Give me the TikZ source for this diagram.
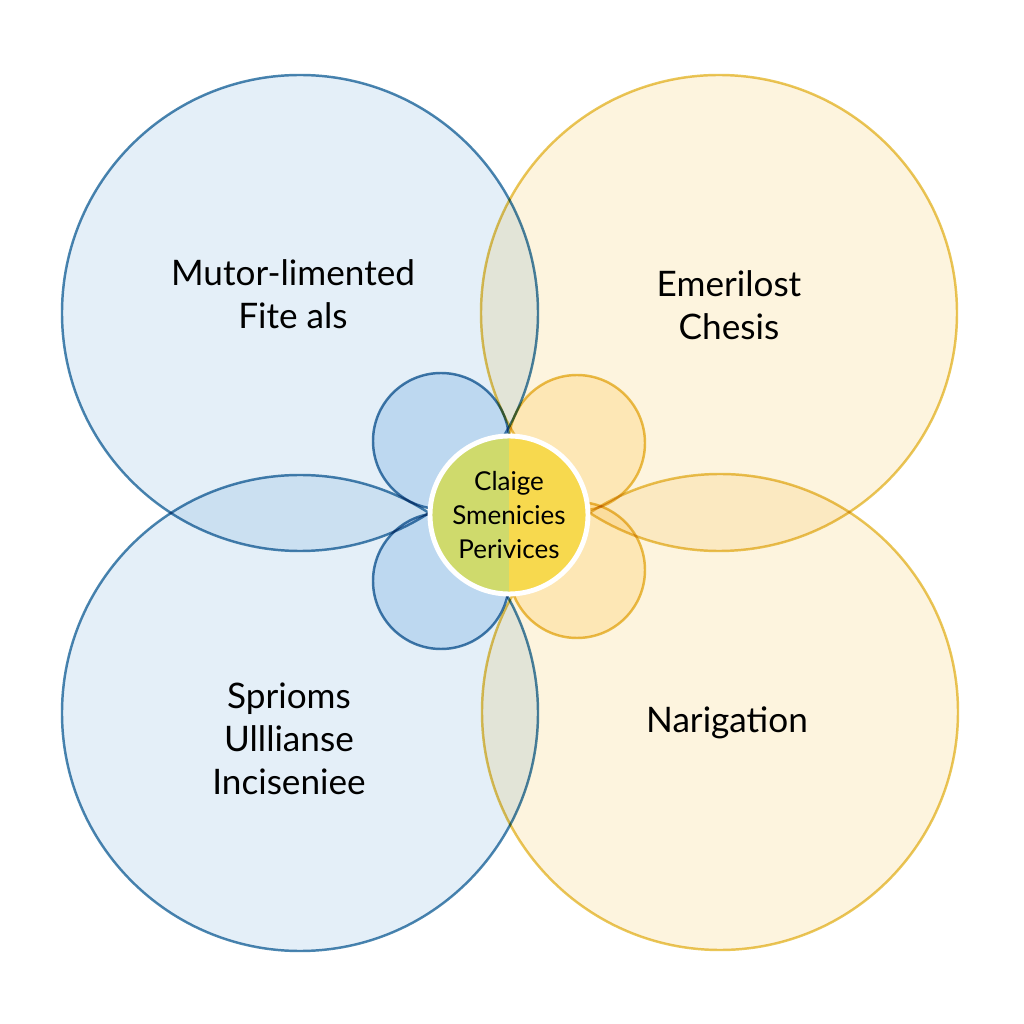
\documentclass[tikz,border=0pt]{standalone}
\usepackage{fontspec}
\setmainfont{Lato}
\definecolor{bluefill}{RGB}{228,239,248}
\definecolor{blueline}{RGB}{74,134,176}
\definecolor{yellowfill}{RGB}{253,244,222}
\definecolor{yellowline}{RGB}{234,199,88}
\definecolor{petalblue}{RGB}{212,231,247}
\definecolor{petalblueline}{RGB}{70,128,172}
\definecolor{petalyellow}{RGB}{255,242,208}
\definecolor{petalyellowline}{RGB}{234,196,80}
\definecolor{coreleft}{RGB}{207,218,108}
\definecolor{coreright}{RGB}{247,217,78}
\begin{document}
\begin{tikzpicture}[line width=0.7pt,
  big/.style={circle, draw, inner sep=0pt, minimum size=4.76cm},
  petal/.style={circle, draw, inner sep=0pt, minimum size=1.36cm},
  label/.style={align=center, font=\fontsize{10}{12.2}\selectfont}]
  \useasboundingbox[fill=white] (0,0) rectangle (10.24,10.24);
  \begin{scope}[blend mode=multiply]
    % four large circles
    \node[big, fill=bluefill, draw=blueline] (tl) at (3.00,7.11) {};
    \node[big, fill=yellowfill, draw=yellowline] (tr) at (7.19,7.11) {};
    \node[big, fill=bluefill, draw=blueline] (bl) at (3.00,3.11) {};
    \node[big, fill=yellowfill, draw=yellowline] (br) at (7.20,3.12) {};
    % small circles round the middle
    \node[petal, fill=petalblue, draw=petalblueline] (ptl) at (4.41,5.83) {};
    \node[petal, fill=petalyellow, draw=petalyellowline] (ptr) at (5.77,5.81) {};
    \node[petal, fill=petalblue, draw=petalblueline] (pbl) at (4.41,4.43) {};
    \node[petal, fill=petalyellow, draw=petalyellowline] (pbr) at (5.77,4.54) {};
  \end{scope}
  % centre
  \coordinate (c) at (5.09,5.09);
  \begin{scope}
    \clip (c) circle (0.79);
    \fill[coreleft] ([shift={(-0.8,-0.8)}]c) rectangle ([shift={(0,0.8)}]c);
    \fill[coreright] ([shift={(0,-0.8)}]c) rectangle ([shift={(0.8,0.8)}]c);
  \end{scope}
  \node[circle, draw=white, line width=1.4pt, inner sep=0pt, minimum size=1.58cm,
        align=center, font=\fontsize{7.4}{9.8}\selectfont] (core) at (c) {Claige\\Smenicies\\Perivices};
  % texts
  \node[label] (tltext) at (2.93,7.30) {Mutor-limented\\Fite als};
  \node[label] (trtext) at (7.29,7.19) {Emerilost\\Chesis};
  \node[label] (bltext) at (2.89,2.85) {Sprioms\\Ulllianse\\Inciseniee};
  \node[label] (brtext) at (7.27,3.01) {Narigation};
\end{tikzpicture}
\end{document}
